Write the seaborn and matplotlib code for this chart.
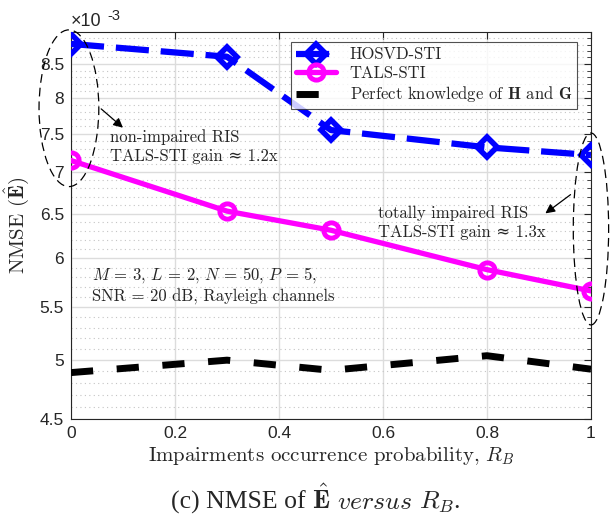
import numpy as np
import pandas as pd
import matplotlib
matplotlib.use("Agg")
import matplotlib.pyplot as plt
import seaborn as sns
from matplotlib.patches import Ellipse
from matplotlib.ticker import FixedLocator, NullFormatter

# ----------- data -----------
r_b = [0, 0.3, 0.5, 0.8, 1]
hosvd_sti = [8.81e-3, 8.61e-3, 7.55e-3, 7.32e-3, 7.22e-3]
tals_sti = [7.15e-3, 6.53e-3, 6.31e-3, 5.88e-3, 5.66e-3]
perfect = [4.89e-3, 5.00e-3, 4.91e-3, 5.04e-3, 4.92e-3]

y_ticks = [4.5e-3, 5e-3, 5.5e-3, 6e-3, 6.5e-3, 7e-3, 7.5e-3, 8e-3, 8.5e-3]
y_tick_labels = ["4.5", "5", "5.5", "6", "6.5", "7", "7.5", "8", "8.5"]
x_ticks = [0, 0.2, 0.4, 0.6, 0.8, 1]
x_tick_labels = ["0", "0.2", "0.4", "0.6", "0.8", "1"]

df = pd.DataFrame({"R_B": r_b, "HOSVD-STI": hosvd_sti, "TALS-STI": tals_sti, "Perfect": perfect})

sns.set_style("white")
plt.rcParams["font.family"] = ["Liberation Sans", "DejaVu Sans"]
plt.rcParams["mathtext.fontset"] = "cm"
cm_font = ["cmr10", "DejaVu Serif"]

fig = plt.figure(figsize=(6.11, 5.16), dpi=100)
ax = fig.add_axes([0.1162, 0.188, 0.851, 0.750])

sns.lineplot(data=df, x="R_B", y="HOSVD-STI", ax=ax, color="#0000ff", linewidth=4.5,
             linestyle=(0, (5.3, 1.9)), marker="D", markersize=10, markeredgewidth=4,
             markerfacecolor="none", markeredgecolor="#0000ff", label="HOSVD-STI", zorder=4)
sns.lineplot(data=df, x="R_B", y="TALS-STI", ax=ax, color="#ff00ff", linewidth=3.8,
             marker="o", markersize=11, markeredgewidth=3.5, markerfacecolor="none",
             markeredgecolor="#ff00ff", label="TALS-STI", zorder=4)
sns.lineplot(data=df, x="R_B", y="Perfect", ax=ax, color="black", linewidth=5,
             linestyle=(0, (3.2, 3.4)), label=r"Perfect knowledge of $\mathbf{H}$ and $\mathbf{G}$", zorder=3)

ax.set_yscale("log")
ax.set_xlim(0, 1)
ax.set_ylim(4.5e-3, 9e-3)
ax.yaxis.set_major_locator(FixedLocator(y_ticks))
ax.set_yticklabels(y_tick_labels)
ax.yaxis.set_minor_locator(FixedLocator([v * 1e-3 for v in np.arange(4.6, 9.0, 0.1)]))
ax.yaxis.set_minor_formatter(NullFormatter())
ax.set_xticks(x_ticks)
ax.set_xticklabels(x_tick_labels)

ax.grid(True, which="major", color="#dcdcdc", linewidth=1.0, linestyle="-")
ax.grid(True, which="minor", axis="y", color="#c4c4c4", linewidth=0.8, linestyle=(0, (1, 3)))
ax.set_axisbelow(True)
for s in ax.spines.values():
    s.set_color("#262626")
    s.set_linewidth(0.8)
ax.tick_params(which="both", direction="in", top=True, right=True, colors="#262626",
               labelsize=12.5, labelcolor="#262626", pad=5)
ax.tick_params(which="major", length=5)
ax.tick_params(which="minor", length=3)

ax.set_xlabel(r"Impairments occurrence probability, $R_B$", family="cmr10", fontsize=15, labelpad=3)
ax.set_ylabel(r"NMSE ($\hat{\mathbf{E}}$)", family="cmr10", fontsize=15, labelpad=6)

# exponent label
ax.text(0.0, 1.004, "×10", transform=ax.transAxes, fontsize=13, color="#262626", va="bottom")
ax.text(0.069, 1.024, "-3", transform=ax.transAxes, fontsize=10.5, color="#262626", va="bottom")

leg = ax.legend(loc="upper right", bbox_to_anchor=(0.973, 0.974), prop={"family": "cmr10", "size": 12},
                handlelength=2.4, frameon=True, fancybox=False, borderpad=0.3, labelspacing=0.2,
                handletextpad=0.8, borderaxespad=0)
leg.get_frame().set_edgecolor("#262626")
leg.get_frame().set_linewidth(0.8)

# annotations
ax.add_patch(Ellipse((-0.004, 0.803), 0.115, 0.405, transform=ax.transAxes, fill=False,
                     linestyle=(0, (7, 4)), linewidth=0.9, edgecolor="black", clip_on=False, zorder=5))
ax.add_patch(Ellipse((1.0, 0.491), 0.068, 0.496, transform=ax.transAxes, fill=False,
                     linestyle=(0, (7, 4)), linewidth=0.9, edgecolor="black", clip_on=False, zorder=5))
ax.annotate("", xy=(0.104, 0.748), xytext=(0.054, 0.806), xycoords="axes fraction",
            arrowprops=dict(arrowstyle="-|>", color="black", lw=0.9, mutation_scale=14))
ax.annotate("", xy=(0.908, 0.527), xytext=(0.965, 0.584), xycoords="axes fraction",
            arrowprops=dict(arrowstyle="-|>", color="black", lw=0.9, mutation_scale=14))

ax.text(0.075, 0.703, "non-impaired RIS\nTALS-STI gain ≈ 1.2x", transform=ax.transAxes,
        family=cm_font, fontsize=12, linespacing=1.3, va="center")
ax.text(0.59, 0.508, "totally impaired RIS\nTALS-STI gain ≈ 1.3x", transform=ax.transAxes,
        family=cm_font, fontsize=12, linespacing=1.3, va="center")
ax.text(0.04, 0.346, "$M$ = 3, $L$ = 2, $N$ = 50, $P$ = 5,\nSNR = 20 dB, Rayleigh channels",
        transform=ax.transAxes, family="cmr10", fontsize=12, linespacing=1.35, va="center")

# caption, built from pieces so the fonts can be mixed
renderer = fig.canvas.get_renderer()
pieces = [("(c) NMSE of ", {"family": "Liberation Serif"}),
          (r"$\hat{\mathbf{E}}$", {}),
          (" ", {"family": "Liberation Serif"}),
          (r"$\mathit{versus}$", {}),
          (" ", {"family": "Liberation Serif"}),
          (r"$R_B$.", {"family": "Liberation Serif"})]
x_pos = 0.28
for txt, kw in pieces:
    t = fig.text(x_pos, 0.014, txt, fontsize=18.5, va="baseline", ha="left", **kw)
    x_pos += t.get_window_extent(renderer).width / fig.bbox.width

fig.savefig("out.png", dpi=100)
